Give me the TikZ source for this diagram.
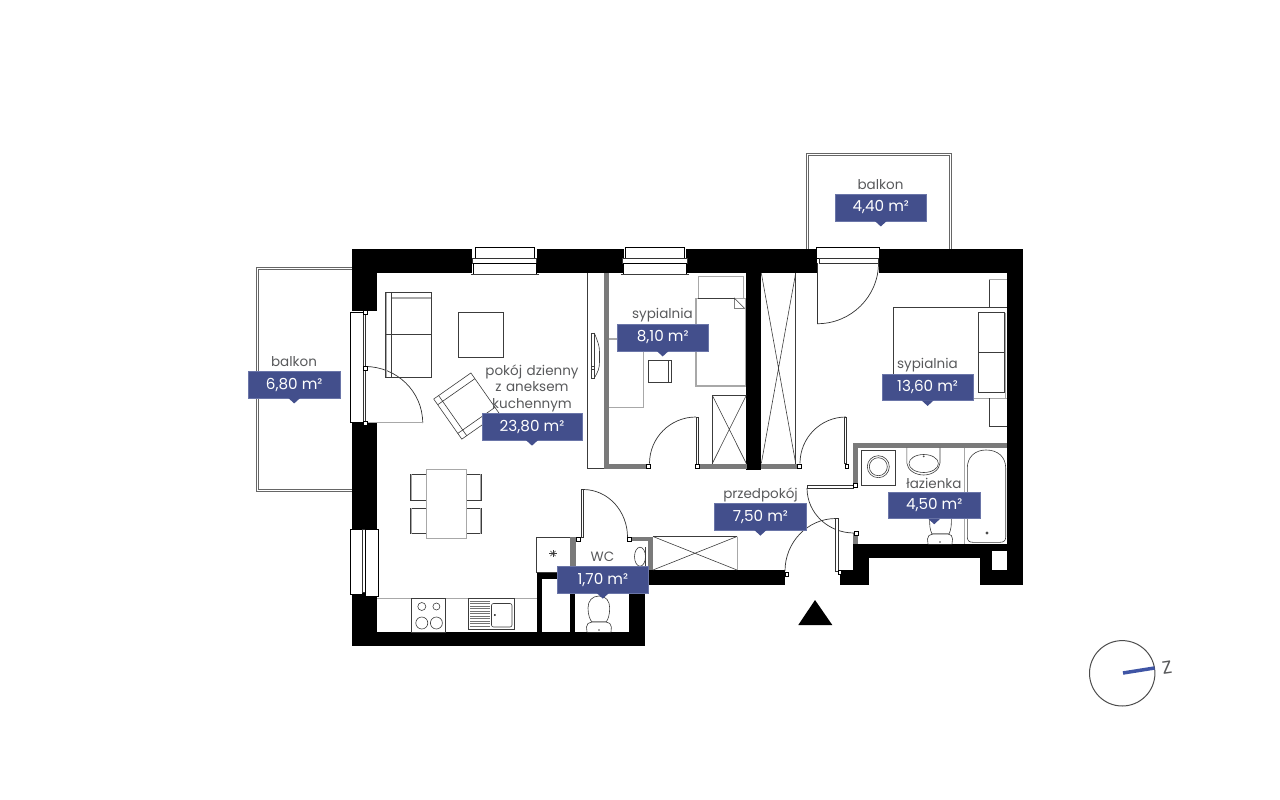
\documentclass[tikz,border=0pt]{standalone}
\usepackage{fontspec}
\setmainfont{Poppins}
\usepackage{xcolor}
\definecolor{tagblue}{HTML}{434F8C}
\definecolor{tagedge}{HTML}{6A75A8}
\definecolor{txtgrey}{HTML}{58595B}
\definecolor{wallgrey}{HTML}{7A7A7A}
\definecolor{stripgrey}{HTML}{A8A8A8}
\definecolor{linegrey}{HTML}{3C3C3C}
\definecolor{northblue}{HTML}{3F55A5}
\tikzset{
	wall/.style={fill=black},
	greywall/.style={fill=wallgrey},
	thinline/.style={draw=linegrey,line width=.6pt},
	strip/.style={draw=stripgrey,line width=1.4pt},
	doorarc/.style={draw=black!80,line width=.7pt},
	jamb/.style={draw=black,fill=white,line width=.5pt},
	casing/.style={draw=black,fill=white,line width=.5pt},
	glass/.style={draw=black!80,fill=white,line width=.5pt},
	balcony/.style={draw=black!60,line width=.7pt},
	areatag/.style={fill=tagblue,draw=tagedge,line width=.4pt,text=white,font=\fontsize{15.2}{15}\selectfont,minimum width=91.5pt,minimum height=26.5pt,inner sep=0pt},
	roomname/.style={text=txtgrey,font=\fontsize{13.5}{16.5}\selectfont,inner sep=0pt,align=center},
}

\begin{document}
\begin{tikzpicture}[x=1pt,y=-1pt]
	\useasboundingbox (0,0) rectangle (1280,800);
	
	% balconies
	\draw[balcony] (352,267.3) -- (256.7,267.3) -- (256.7,491.5) -- (352,491.5);
	\draw[balcony] (352,269) -- (258.6,269) -- (258.6,489.8) -- (352,489.8);
	\draw[balcony] (806.7,249) -- (806.7,153.7) -- (951.3,153.7) -- (951.3,249);
	\draw[balcony] (808.5,249) -- (808.5,155.5) -- (949.5,155.5) -- (949.5,249);
	
	% load bearing walls
	\fill[wall] (352,249) rectangle (472,273);
	\fill[wall] (536.5,249) rectangle (624,273);
	\fill[wall] (686,249) rectangle (817,273);
	\fill[wall] (879.3,249) rectangle (1023,273);
	\fill[wall] (352,249) rectangle (377,311);
	\fill[wall] (352,423) rectangle (377,529.5);
	\fill[wall] (352,592) rectangle (377,646);
	\fill[wall] (352,632) rectangle (644.7,646);
	\fill[wall] (537,573) rectangle (575,579);
	\fill[wall] (537,573) rectangle (542.3,632);
	\fill[wall] (569.5,573) rectangle (575,632);
	\fill[wall] (629,570) rectangle (644.7,646);
	\fill[wall] (629,570) rectangle (784.5,585);
	\fill[wall] (746.3,273) rectangle (761.3,469.5);
	\fill[wall] (1006.7,273) rectangle (1023,585);
	\fill[wall] (853,544) rectangle (1007,550.7);
	\fill[wall] (853,544) rectangle (991.7,558);
	\fill[wall] (853,544) rectangle (869.3,585);
	\fill[wall] (840,570.3) rectangle (869.3,585);
	\fill[wall] (980.3,544) rectangle (991.7,585);
	\fill[wall] (980.3,570.3) rectangle (1023,585);
	
	% partition walls
	\fill[greywall] (604.3,273) rectangle (609.3,468.5);
	\fill[greywall] (604.3,463.5) rectangle (647,468.5);
	\fill[greywall] (700,463.5) rectangle (746.5,468.5);
	\fill[greywall] (761,463.5) rectangle (797.7,468.5);
	\fill[greywall] (570.3,536.7) rectangle (576,573);
	\fill[greywall] (570.3,536.7) rectangle (578,541);
	\fill[greywall] (632,536.7) rectangle (653,541);
	\fill[greywall] (648,536.7) rectangle (653,570);
	\fill[greywall] (853.3,442.7) rectangle (1007,447.7);
	\fill[greywall] (853.3,442.7) rectangle (858.3,484);
	\fill[greywall] (853.3,533) rectangle (858.3,544);
	
	% windows
	\foreach \winl/\winr in {475/534,625/684.3}{
		\draw[casing] (\winl,247.5) rectangle (\winr,258.3);
		\draw[glass] (\winl-2.5,258.3) rectangle (\winr+2.5,263);
		\draw[casing] (\winl-1.7,263) rectangle (\winr+2.3,273.8);
		\draw[thinline] (\winl-4,273.8) -- (\winr+5,273.8);
	}
	\draw[casing] (816.7,247.5) rectangle (879.3,258.3);
	\draw[glass] (819,258.3) rectangle (878,263);
	\draw[casing] (350.7,312) rectangle (363,422.5);
	\draw[glass] (363,311) rectangle (365.5,423);
	\draw[casing] (350,529.5) rectangle (362.7,594);
	\draw[glass] (362.7,529) rectangle (365.7,592);
	\draw[casing] (365.7,529) rectangle (378.7,596);
	
	% doors
	\draw[doorarc] (817.5,263) -- (817.5,323.7) to[out=0,in=-90] (878.5,263);
	\draw[doorarc] (365,366.5) to[out=0,in=90] (422.7,423);
	\draw[strip,line width=.9pt] (366,422.5) -- (422.7,422.5);
	\draw[doorarc] (627.5,537) to[out=90,in=0] (583,489.5);
	\draw[glass] (581,489.5) rectangle (583.3,537);
	\draw[doorarc] (649.5,463.5) to[out=90,in=180] (696,417);
	\draw[glass] (696,417) rectangle (698.3,464);
	\draw[doorarc] (800,463.3) to[out=90,in=180] (846,417);
	\draw[glass] (844,417) rectangle (846.7,463);
	\draw[glass] (807,485) rectangle (853,488);
	\draw[doorarc] (807,488) to[out=-90,in=180] (854,533);
	\draw[doorarc] (785,571) to[out=90,in=180] (836,518.5);
	\draw[glass] (835,518.5) rectangle (838.3,571.5);
	\foreach \jx/\jy in {363.5/310,363.5/366,363.5/421.5,576.5/537,627.5/537,646.7/463.8,695.5/463.8,797.7/463.8,845/463.8,853.5/483,854.5/531,785/572,838/570}
		\draw[jamb] (\jx,\jy) rectangle ++(3.5,4);
	
	% fitted wardrobes
	\draw[thinline] (587.3,273) -- (587.3,468.3) -- (604.3,468.3);
	\draw[thinline] (712.3,463.5) -- (712.3,395.3) -- (746.3,395.3);
	\draw[thinline] (712.3,395.3) -- (746.3,463.5) (746.3,395.3) -- (712.3,463.5);
	\draw[thinline] (795.7,273) -- (795.7,463.5);
	\draw[thinline] (761.3,273) -- (795.7,463.5) (795.7,273) -- (761.3,463.5);
	\draw[thinline] (737,536.5) -- (653,536.5) (653,570) -- (737,536.5) (653,536.5) -- (737,570);
	\draw[strip,line width=1pt] (737.3,536.5) -- (737.3,570);
	
	% living room
	\draw[strip] (386.5,292.3) -- (386.5,377.5) (391.7,298) -- (431.7,298);
	\draw[thinline] (385.7,292.3) rectangle (431.7,377.5);
	\draw[thinline] (385.7,334.5) -- (431.7,334.5) (391.7,292.3) -- (391.7,377.5);
	\draw[thinline] (458.3,312.3) rectangle (503.7,357.3);
	\begin{scope}[shift={(433.7,399)},rotate=35]
		\draw[thinline] (0,0) rectangle (45.4,49);
		\draw[thinline] (0,7) -- (45.4,7) (0,42) -- (45.4,42) (6,0) -- (6,49);
	\end{scope}
	\draw[thinline] (591,333) -- (594.3,333) -- (594.3,378) -- (591,378) -- cycle;
	\draw[thinline] (594.3,333) .. controls (598,342) and (599.5,346) .. (599.5,352) -- (599.5,362) .. controls (599.5,368) and (598,372) .. (594.3,378);
	\draw[thinline] (591,366) -- (594.3,366) (591,369) -- (594.3,369);
	
	% dining table
	\foreach \chy in {474.3,508}{
		\draw[thinline] (426,\chy) rectangle (410.5,\chy+25.5);
		\draw[thinline] (466,\chy) rectangle (481.7,\chy+25.5);
		\draw[strip,line width=1pt] (411.5,\chy) -- (411.5,\chy+25.5);
		\draw[strip,line width=1pt] (480.7,\chy) -- (480.7,\chy+25.5);
	}
	\draw[strip,line width=1pt,fill=white] (426,469.5) rectangle (466,538.5);
	
	% kitchen
	\draw[strip,line width=1pt] (377,598) -- (537,598);
	\draw[thinline] (536.5,573) -- (536.5,537) -- (570,537) (536.5,572) -- (570,572);
	\foreach \starang in {0,45,...,135}
		\draw[thinline] (553,553.5) ++(\starang:3.6) -- ++(\starang+180:7.2);
	\draw[thinline] (411.5,598) rectangle (445.5,632);
	\foreach \bx/\by/\br in {421.8/606.5/4,436.4/606.5/3.5,421.8/623/6,436.4/623/6}
		\draw[thinline] (\bx,\by) circle[radius=\br pt];
	\draw[thinline] (468,598) rectangle (514,629.5);
	\foreach \ry in {601,603.5,...,627}
		\draw[draw=black!55,line width=.5pt] (470,\ry) -- (490,\ry);
	\draw[thinline,rounded corners=2pt] (491.5,603.5) rectangle (512,627);
	\fill[black] (494.8,615) circle[radius=1pt];
	
	% small bedroom
	\draw[strip,fill=white] (696,298.3) rectangle (745.3,386);
	\draw[strip,line width=1pt] (698.3,298) -- (698.3,276.7) -- (743.3,276.7) -- (743.3,298);
	\draw[thinline] (698.3,298) -- (734.3,298);
	\draw[thinline,fill=white] (734.3,298) -- (734.3,308.3) -- (744.5,308.3) -- cycle;
	\draw[strip,line width=1.2pt] (609.3,339) -- (620,339) (643.3,350) -- (643.3,407.3) -- (609.3,407.3);
	\draw[thinline] (648.3,360.3) rectangle (671.7,382.7);
	\draw[thinline] (668,360.3) -- (668,382.7);
	
	% large bedroom
	\draw[thinline] (893.3,380) -- (893.3,307.3) -- (1006.7,307.3);
	\draw[strip,line width=1pt] (973,398.3) -- (1006.7,398.3) (1005,312.7) -- (1005,398.3);
	\draw[thinline,fill=white] (978.3,312.7) rectangle (1004,392.7);
	\draw[thinline] (978.3,352.3) -- (1004,352.3);
	\draw[thinline] (1006.7,279) -- (989.3,279) -- (989.3,307.3);
	\draw[strip,line width=1pt] (989.3,279) -- (1006.7,279);
	\draw[thinline] (989.3,398.3) -- (989.3,426.3) -- (1006.7,426.3);
	
	% bathroom
	\draw[thinline] (861,450.3) rectangle (895.7,485);
	\draw[thinline] (878.3,466.7) circle[radius=11pt] circle[radius=9pt];
	\draw[thinline] (906.8,447.7) -- (906.8,463) .. controls (907.5,470) and (915,475) .. (923.7,475) .. controls (932,475) and (939.5,470) .. (940,463) -- (940,447.7);
	\draw[thinline] (923.7,463.5) ellipse[x radius=14.7pt,y radius=9pt];
	\fill[black!70] (923.7,456.3) circle[radius=1pt];
	\draw[strip,line width=1pt] (964.7,447.7) -- (964.7,544);
	\draw[thinline] (967.3,468) .. controls (967.3,457) and (975,450) .. (986,450) .. controls (998,450) and (1005.7,457) .. (1005.7,468) -- (1005.7,537) .. controls (1005.7,540.5) and (1004,542.3) .. (1000,542.3) -- (973,542.3) .. controls (969,542.3) and (967.3,540.5) .. (967.3,537) -- cycle;
	\fill[black!70] (987,533) circle[radius=1.6pt];
	\draw[thinline,fill=white] (930,516) .. controls (929,524) and (930,530) .. (932,534) -- (949,534) .. controls (951,530) and (952,524) .. (951,516);
	\draw[thinline,fill=white,rounded corners=2pt] (928,544) -- (927.3,537) -- (931,534) -- (950,534) -- (952.7,537) -- (952,544);
	\fill[black!70] (940,542) circle[radius=.8pt];
	
	% wc
	\draw[thinline] (640,556.7) ellipse[x radius=5.5pt,y radius=9.5pt];
	\draw[thinline] (645.5,547) -- (645.5,566);
	\draw[thinline,fill=white] (599,596) .. controls (592,596) and (588,601) .. (588,608) .. controls (588,615) and (590,620) .. (592,622) -- (606,622) .. controls (608,620) and (609.7,615) .. (609.7,608) .. controls (609.7,601) and (606,596) .. (599,596) -- cycle;
	\draw[thinline,fill=white,rounded corners=2pt] (587,632) -- (586.3,625) -- (590,622) -- (608,622) -- (611.5,625) -- (611,632);
	\fill[black!70] (599,630) circle[radius=.8pt];
	
	% entrance and north mark
	\fill[black] (798.3,625) -- (815,600) -- (832.3,625) -- cycle;
	\draw[draw=black!70,line width=1pt] (1122.2,673.3) circle[radius=32.7pt];
	\draw[draw=northblue,line width=3.5pt] (1123,673) -- (1154.5,668);
	\node[text=txtgrey,font=\fontsize{18}{18}\selectfont,inner sep=0pt,rotate=8] (northz) at (1167,668) {Z};
	
	% room names
	\node[roomname] (balkonw) at (294,362) {balkon};
	\node[roomname] (balkonn) at (880.5,185) {balkon};
	\node[roomname,text width=110pt] (pokoj) at (532,388) {pokój dzienny\\z aneksem\\kuchennym};
	\node[roomname] (sypmala) at (662.5,315) {sypialnia};
	\node[roomname] (sypduza) at (927.5,365) {sypialnia};
	\node[roomname] (lazienka) at (934,483) {łazienka};
	\node[roomname] (przedpokoj) at (760.5,494.5) {przedpokój};
	\node[roomname] (wc) at (602.5,556.5) {WC};
	
	% area tags
	\node[areatag] (tagbalkonw) at (294.2,384.5) {6,80 m²};
	\node[areatag] (tagbalkonn) at (880.8,207.5) {4,40 m²};
	\node[areatag,minimum width=100.5pt] (tagpokoj) at (532,426.7) {23,80 m²};
	\node[areatag] (tagsypmala) at (662.7,337.5) {8,10 m²};
	\node[areatag] (tagsypduza) at (927.6,387) {13,60 m²};
	\node[areatag] (taglazienka) at (934.2,505.3) {4,50 m²};
	\node[areatag] (tagprzedpokoj) at (760.4,516.7) {7,50 m²};
	\node[areatag] (tagwc) at (602.8,579.7) {1,70 m²};
	\foreach \tagname in {tagbalkonw,tagbalkonn,tagpokoj,tagsypmala,tagsypduza,taglazienka,tagprzedpokoj,tagwc}
		\fill[tagblue] ([xshift=-6pt]\tagname.south) -- ([xshift=6pt]\tagname.south) -- ([yshift=-5.5pt]\tagname.south) -- cycle;
\end{tikzpicture}
\end{document}
